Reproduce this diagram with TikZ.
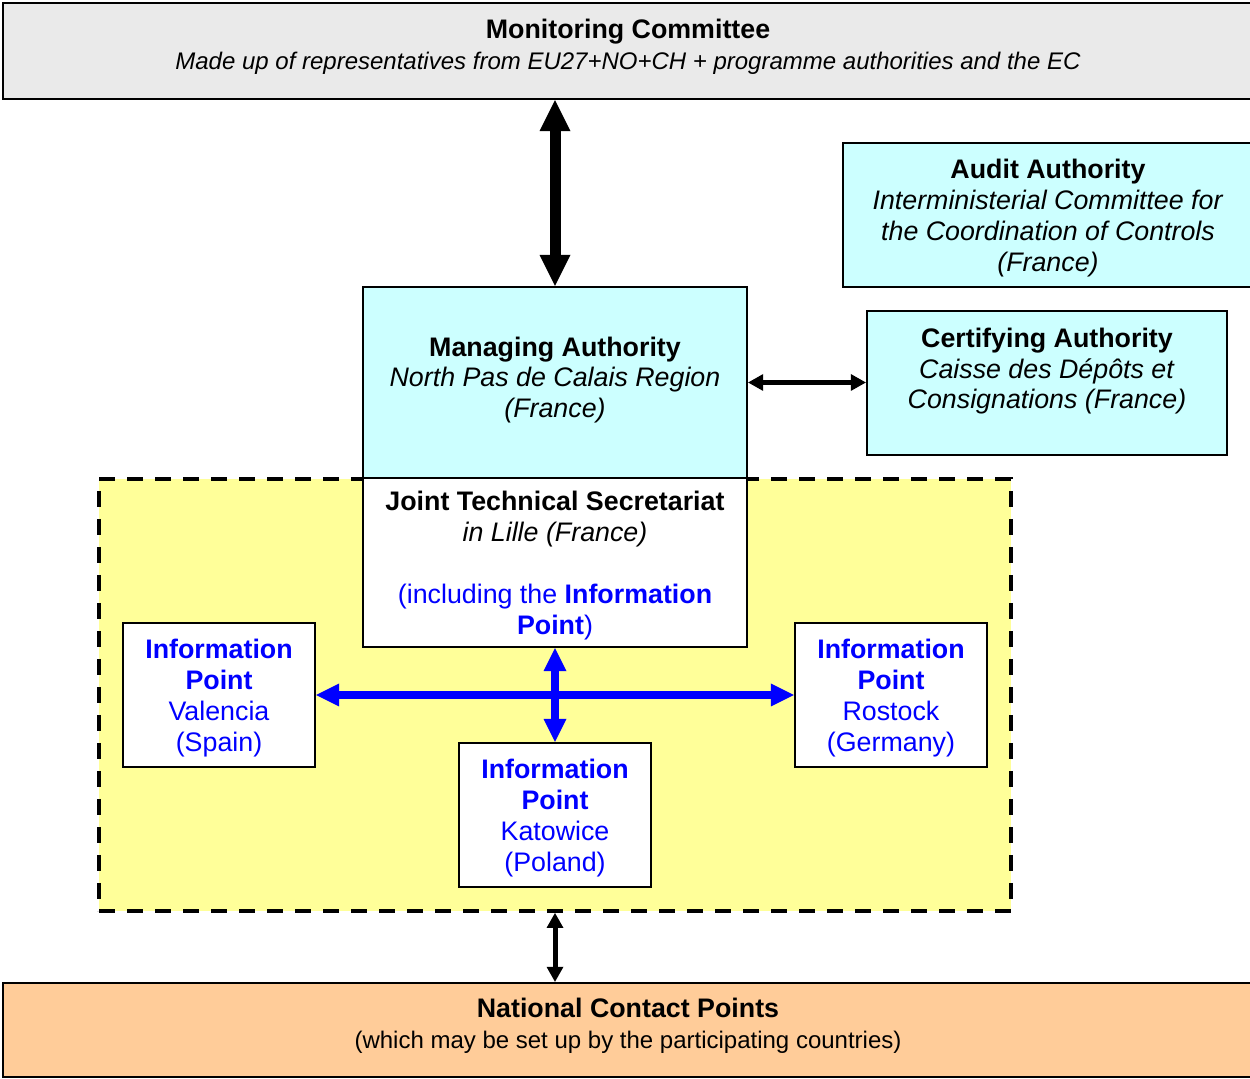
\documentclass[tikz,border=0pt]{standalone}
\usepackage{fontspec}
\setmainfont{Liberation Sans}
\usetikzlibrary{arrows.meta}
\definecolor{mcgray}{HTML}{EAEAEA}
\definecolor{authcyan}{HTML}{CCFFFF}
\definecolor{areayellow}{HTML}{FFFF99}
\definecolor{ncporange}{HTML}{FFCC99}
\definecolor{ipblue}{HTML}{0000FF}
\newcommand{\dropline}[1]{\rule[-#1]{0pt}{#1}}
\newcommand{\raiseline}[1]{\rule{0pt}{#1}}
\newcommand{\subsize}{\fontsize{12pt}{15.4pt}\selectfont}
\tikzset{
	box/.style={rectangle, draw=black, line width=1.2pt, align=center, inner sep=2pt},
	ipbox/.style={box, fill=white, text=ipblue, minimum width=96pt, minimum height=72pt},
	bigarrow/.style={line width=5.5pt,
		{Triangle[length=15.5pt,width=15.5pt,line width=0pt]}-{Triangle[length=15.5pt,width=15.5pt,line width=0pt]}},
	thinarrow/.style={line width=2.5pt,
		{Triangle[length=7.5pt,width=8.5pt,line width=0pt]}-{Triangle[length=7.5pt,width=8.5pt,line width=0pt]}},
	bluearrow/.style={draw=ipblue, line width=4pt,
		{Triangle[length=11.5pt,width=11.5pt,line width=0pt]}-{Triangle[length=11.5pt,width=11.5pt,line width=0pt]}}
}
\begin{document}
\begin{tikzpicture}[x=0.5pt, y=-0.5pt, font=\fontsize{13.4pt}{15.4pt}\selectfont]
				\useasboundingbox (0,0) rectangle (1250,1079);
				% dashed area round the secretariat
				\node[rectangle, draw=black, fill=areayellow, line width=2pt,
				dash pattern=on 8pt off 6pt,
				minimum width=456pt, minimum height=216pt] (area) at (555,695) {};
				\node[box, fill=mcgray, minimum width=625pt, minimum height=48pt] (mc) at (628,51)
				{\textbf{Monitoring Committee}\\{\subsize\textit{Made up of representatives from EU27+NO+CH + programme authorities and the EC}}\dropline{6.7pt}};
				\node[box, fill=authcyan, minimum width=205pt, minimum height=72pt] (aa) at (1048,215)
				{\raiseline{12.8pt}\textbf{Audit Authority}\\\textit{Interministerial Committee for}\\\textit{the Coordination of Controls}\\\textit{(France)}};
				\node[box, fill=authcyan, minimum width=192pt, minimum height=95.5pt] (ma) at (555,382.5)
				{\textbf{Managing Authority}\\\textit{North Pas de Calais Region}\\\textit{(France)}\dropline{5.4pt}};
				\node[box, fill=authcyan, minimum width=180pt, minimum height=72pt] (ca) at (1047,383)
				{\textbf{Certifying Authority}\\\textit{Caisse des Dépôts et}\\\textit{Consignations (France)}\dropline{14.7pt}};
				\node[box, fill=white, minimum width=192pt, minimum height=84.5pt] (jts) at (555,562.5)
				{\raiseline{12.8pt}\textbf{Joint Technical Secretariat}\\\textit{in Lille (France)}\\[15.4pt]
				\textcolor{ipblue}{(including the \textbf{Information}}\\\textcolor{ipblue}{\textbf{Point})}};
				\node[ipbox] (ipv) at (219,695) {\raiseline{12.8pt}\textbf{Information}\\\textbf{Point}\\Valencia\\(Spain)};
				\node[ipbox] (ipk) at (555,815) {\raiseline{12.8pt}\textbf{Information}\\\textbf{Point}\\Katowice\\(Poland)};
				\node[ipbox] (ipr) at (891,695) {\raiseline{12.8pt}\textbf{Information}\\\textbf{Point}\\Rostock\\(Germany)};
				\node[box, fill=ncporange, minimum width=625pt, minimum height=47pt] (ncp) at (628,1030)
				{\textbf{National Contact Points}\\{\subsize(which may be set up by the participating countries)}\dropline{6.7pt}};
				% connectors
				\draw[bigarrow] (ma.north |- mc.south) -- (ma.north);
				\draw[thinarrow] (ma.east) -- (ma.east -| ca.west);
				\draw[bluearrow] (ipv.east) -- (ipr.west);
				\draw[bluearrow] (jts.south) -- (ipk.north);
				\draw[thinarrow] (area.south) -- (area.south |- ncp.north);
			\end{tikzpicture}
\end{document}
